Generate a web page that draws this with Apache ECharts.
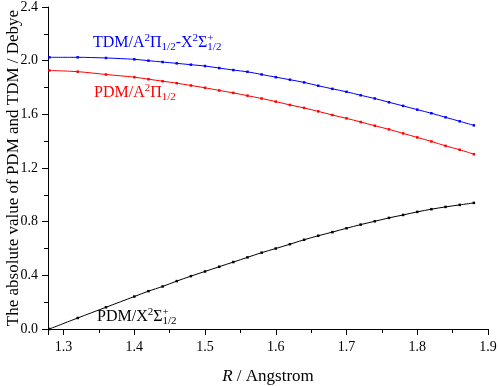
<!DOCTYPE html>
<html>
<head>
<meta charset="utf-8">
<script src="https://cdn.jsdelivr.net/npm/echarts@6/dist/echarts.min.js"></script>
<style>
  html, body { margin: 0; padding: 0; background: #fff; }
  #chart { width: 498px; height: 386px; }
</style>
</head>
<body>
<div id="chart"></div>
<script>
var rValues = [1.28, 1.32, 1.36, 1.40, 1.42, 1.44, 1.46, 1.48, 1.50, 1.52, 1.54, 1.56, 1.58, 1.60,
    1.62, 1.64, 1.66, 1.68, 1.70, 1.72, 1.74, 1.76, 1.78, 1.80, 1.82, 1.84, 1.86, 1.88];
var pdmX = [0.000, 0.082, 0.162, 0.242, 0.282, 0.317, 0.357, 0.394, 0.429, 0.464, 0.499, 0.534, 0.569, 0.600,
    0.632, 0.665, 0.695, 0.722, 0.751, 0.778, 0.803, 0.828, 0.850, 0.873, 0.893, 0.910, 0.925, 0.940];
var pdmA = [1.927, 1.918, 1.897, 1.877, 1.862, 1.847, 1.832, 1.815, 1.798, 1.778, 1.760, 1.739, 1.718, 1.695,
    1.670, 1.648, 1.622, 1.595, 1.570, 1.543, 1.515, 1.488, 1.458, 1.428, 1.398, 1.365, 1.336, 1.303];
var tdm = [2.025, 2.025, 2.020, 2.010, 2.000, 1.990, 1.980, 1.970, 1.960, 1.945, 1.930, 1.917, 1.897, 1.877,
    1.858, 1.838, 1.813, 1.790, 1.768, 1.742, 1.718, 1.690, 1.663, 1.635, 1.608, 1.578, 1.548, 1.518];
var yTicks = [0, 2.4, 0.4];

var chart = echarts.init(document.getElementById('chart'));
var serif = 'Liberation Serif';

function pairs(ys) {
    return rValues.map(function (r, i) { return [r, ys[i]]; });
}

function richFor(color) {
    return {
        n: { fontFamily: serif, fontSize: 16, fill: color, lineHeight: 20 },
        sup: { fontFamily: serif, fontSize: 11, fill: color, lineHeight: 12, verticalAlign: 'top' },
        supz: { fontFamily: serif, fontSize: 11, fill: color, lineHeight: 12, verticalAlign: 'top', width: 0 },
        sub: { fontFamily: serif, fontSize: 11, fill: color, lineHeight: 10, verticalAlign: 'bottom' }
    };
}

function label(x, y, text, color) {
    return {
        type: 'text',
        left: x,
        top: y,
        style: { text: text, fill: color, rich: richFor(color) }
    };
}

function series(name, ys, color) {
    return {
        name: name,
        type: 'line',
        data: pairs(ys),
        smooth: 0.3,
        symbol: 'rect',
        symbolSize: 2.5,
        color: color,
        lineStyle: { width: 1, color: color },
        itemStyle: { color: color },
        animation: false
    };
}

var option = {
    backgroundColor: '#fff',
    grid: { left: 48, right: 10, top: 7, bottom: 57, outerBoundsMode: 'none', containLabel: false },
    xAxis: {
        type: 'value',
        min: 1.278,
        max: 1.9,
        splitNumber: 6,
        name: '{i|R} / Angstrom',
        nameLocation: 'middle',
        nameGap: 39,
        nameMoveOverlap: false,
        nameTextStyle: {
            fontFamily: serif, fontSize: 17, color: '#000',
            rich: { i: { fontFamily: serif, fontSize: 17, fontStyle: 'italic', color: '#000' } }
        },
        axisLine: { lineStyle: { color: '#000', width: 1 } },
        axisTick: { length: 6, lineStyle: { color: '#000' } },
        minorTick: { show: true, splitNumber: 2, length: 4, lineStyle: { color: '#000' } },
        splitLine: { show: false },
        axisLabel: {
            fontFamily: serif, fontSize: 14, color: '#000', margin: 11,
            showMinLabel: false,
            formatter: function (v) { return v.toFixed(1); }
        }
    },
    yAxis: {
        type: 'value',
        min: yTicks[0],
        max: yTicks[1],
        interval: yTicks[2],
        name: 'The absolute value of PDM and TDM / Debye',
        nameLocation: 'middle',
        nameGap: 26,
        nameMoveOverlap: false,
        nameTextStyle: { fontFamily: serif, fontSize: 17, color: '#000' },
        axisLine: { show: true, lineStyle: { color: '#000', width: 1 } },
        axisTick: { show: true, length: 6, lineStyle: { color: '#000' } },
        minorTick: { show: true, splitNumber: 2, length: 4, lineStyle: { color: '#000' } },
        splitLine: { show: false },
        axisLabel: {
            fontFamily: serif, fontSize: 14, color: '#000', margin: 10,
            formatter: function (v) { return v.toFixed(1); }
        }
    },
    graphic: [
        label(93, 33, '{n|TDM/A}{sup|2}{n|Π}{sub|1/2}{n|-X}{sup|2}{n|Σ}{supz|+}{sub|1/2}', '#0000ff'),
        label(94, 83, '{n|PDM/A}{sup|2}{n|Π}{sub|1/2}', '#ff0000'),
        label(97, 307, '{n|PDM/X}{sup|2}{n|Σ}{supz|+}{sub|1/2}', '#000')
    ],
    series: [
        series('TDM', tdm, '#0000ff'),
        series('PDM A', pdmA, '#ff0000'),
        series('PDM X', pdmX, '#000000')
    ]
};

chart.setOption(option);
</script>
</body>
</html>
